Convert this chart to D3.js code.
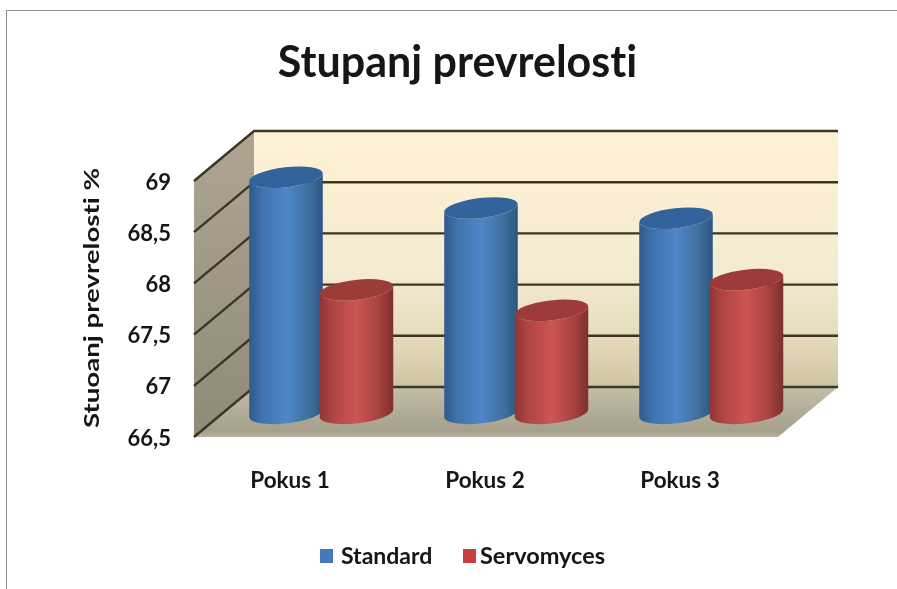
<!DOCTYPE html>
<html><head><meta charset="utf-8">
<script src="https://cdn.jsdelivr.net/npm/d3@7"></script>
<style>html,body{margin:0;padding:0;background:#fff}svg{display:block}text{font-family:Lato,sans-serif;font-weight:700;fill:#141414;font-variant-ligatures:none}</style>
</head><body><div id="c"></div>
<script>
const categories = ["Pokus 1","Pokus 2","Pokus 3"];
const standard = [68.9,68.6,68.5];
const servomyces = [67.8,67.6,67.9];
const seriesNames = ["Standard","Servomyces"];
const tickValues = [66.5,67,67.5,68,68.5,69];
const W=897,H=589;
const svg=d3.select("#c").append("svg").attr("width",W).attr("height",H);
const defs=svg.append("defs");
defs.append("filter").attr("id","soft").attr("x",0).attr("y",0).attr("width",1).attr("height",1)
  .append("feGaussianBlur").attr("stdDeviation",0.55);
function grad(id,dir,stops){
  const g=defs.append("linearGradient").attr("id",id).attr("x1",0).attr("y1",0)
    .attr("x2",dir==="h"?1:0).attr("y2",dir==="h"?0:1);
  stops.forEach(s=>g.append("stop").attr("offset",s[0]).attr("stop-color",s[1]));
}
grad("back","v",[[0,"#fff1d4"],[.55,"#f4ebd2"],[.8,"#e6dcbd"],[1,"#cfc4a2"]]);
grad("side","v",[[0,"#afa592"],[1,"#8f8a76"]]);
grad("floor","v",[[0,"#c4bda9"],[.9,"#a5a08b"],[1,"#b9b5a6"]]);
grad("cylBlue","h",[[0,"#2f5a8c"],[.18,"#3f73ad"],[.5,"#4f86c8"],[.8,"#40719f"],[1,"#2c5580"]]);
grad("cylRed","h",[[0,"#8e3634"],[.18,"#b04543"],[.5,"#cc5553"],[.8,"#a84240"],[1,"#7d2f2d"]]);

const g=svg.append("g").attr("filter","url(#soft)");
g.append("path").attr("d",`M6,${H}V10H${W}`).attr("fill","none").attr("stroke","#8f8f8f").attr("stroke-width",2);

const depthX=60, depthY=-50;
const wallY=d3.scaleLinear().domain([66.5,69]).range([437,181]);
const left=194,right=778;
const y0=wallY(66.5),yT=wallY(69);
g.append("polygon").attr("points",[[left+depthX,yT+depthY],[right+depthX,yT+depthY],[right+depthX,y0+depthY],[left+depthX,y0+depthY]].join(" ")).attr("fill","url(#back)");
g.append("polygon").attr("points",[[left,yT],[left+depthX,yT+depthY],[left+depthX,y0+depthY],[left,y0]].join(" ")).attr("fill","url(#side)");
g.append("polygon").attr("points",[[left,y0],[left+depthX,y0+depthY],[right+depthX,y0+depthY],[right,y0]].join(" ")).attr("fill","url(#floor)");
const grid=g.append("g").attr("fill","none").attr("stroke","#3b3626").attr("stroke-width",2.4);
tickValues.forEach(v=>{
  const y=wallY(v);
  grid.append("path").attr("d",`M${left},${y}L${left+depthX},${y+depthY}H${right+depthX}`);
});
const axis=d3.axisLeft(wallY).tickValues(tickValues).tickSize(0).tickPadding(0)
  .tickFormat(d=>String(d).replace(".",","));
const ax=g.append("g").attr("transform","translate(171,1)").call(axis);
ax.select(".domain").remove();
ax.selectAll("text").style("font-size","22px").style("font-family","Lato,sans-serif").style("font-weight",700).attr("fill","#141414");

const barTop=d3.scaleLinear().domain([66.5,69]).range([423,167]);
const baseValue=66.594;
const x=d3.scaleBand().domain(categories).range([188.5,773.5]);
const offs=d3.scaleOrdinal().domain(seriesNames).range([97.5,168]);
const rx=37,ry=10,rot=-6.5;
const dx=rx*Math.cos(rot*Math.PI/180),dy=rx*Math.sin(rot*Math.PI/180);
function cyl(cx,v,body,top){
  const yt=barTop(v),yb=barTop(baseValue);
  g.append("path").attr("fill",`url(#${body})`)
   .attr("d",`M${cx-dx},${yt-dy}L${cx-dx},${yb-dy}A${rx},${ry} ${rot} 0 0 ${cx+dx},${yb+dy}L${cx+dx},${yt+dy}A${rx},${ry} ${rot} 0 1 ${cx-dx},${yt-dy}Z`);
  g.append("ellipse").attr("cx",cx).attr("cy",yt).attr("rx",rx).attr("ry",ry)
   .attr("transform",`rotate(${rot} ${cx} ${yt})`).attr("fill",top);
}
categories.forEach((c,i)=>{
  cyl(x(c)+offs("Standard"),standard[i],"cylBlue","#33639a");
  cyl(x(c)+offs("Servomyces"),servomyces[i],"cylRed","#9c3b39");
});
categories.forEach(c=>{
  g.append("text").attr("x",x(c)+101.5).attr("y",488).attr("text-anchor","middle").style("font-size","22.5px").text(c);
});
g.append("text").attr("x",457.5).attr("y",77).attr("text-anchor","middle").style("font-size","43px").text("Stupanj prevrelosti");
g.append("text").attr("transform","translate(99,298) rotate(-90) scale(1.38,1)").attr("text-anchor","middle").style("font-size","20px").text("Stuoanj prevrelosti  %");
const legendX=[320,463], legendColors=["#4279bd","#c8413f"];
const legendSize=["23px","23.5px"], legendGap=[21,17];
seriesNames.forEach((n,i)=>{
  g.append("rect").attr("x",legendX[i]).attr("y",549).attr("width",13).attr("height",14).attr("fill",legendColors[i]);
  g.append("text").attr("x",legendX[i]+legendGap[i]).attr("y",564).style("font-size",legendSize[i]).text(n);
});
</script></body></html>
